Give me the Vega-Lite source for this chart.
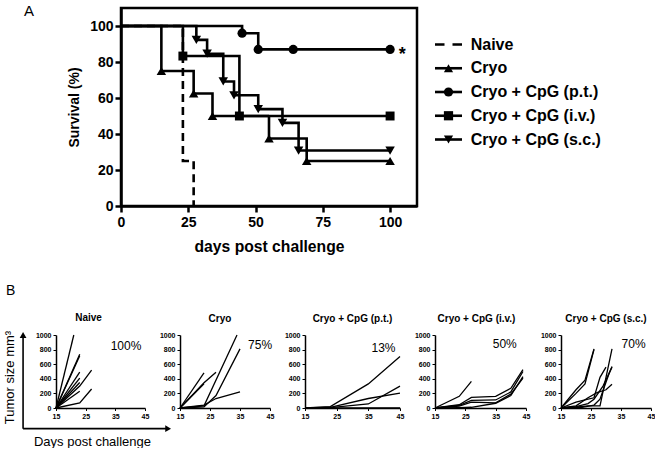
{
 "$schema": "https://vega.github.io/schema/vega-lite/v6.json",
 "background": "white",
 "padding": {"left": 2, "top": 2, "right": 0, "bottom": 0},
 "config": {
  "font": "Liberation Sans",
  "view": {"stroke": null},
  "axis": {"grid": false, "domainColor": "black", "tickColor": "black", "labelColor": "black", "titleColor": "black", "labelFlush": false, "labelOverlap": false},
  "title": {"color": "black"}
 },
 "spacing": 29,
 "datasets": {
  "survival": [
   {"group": "Naive", "day": 0, "survival": 100}, {"group": "Naive", "day": 23, "survival": 25}, {"group": "Naive", "day": 27, "survival": 0},
   {"group": "Cryo", "day": 0, "survival": 100}, {"group": "Cryo", "day": 15, "survival": 75}, {"group": "Cryo", "day": 27, "survival": 62.5}, {"group": "Cryo", "day": 34, "survival": 50}, {"group": "Cryo", "day": 55, "survival": 37.5}, {"group": "Cryo", "day": 69, "survival": 25}, {"group": "Cryo", "day": 100, "survival": 25},
   {"group": "Cryo + CpG (p.t.)", "day": 0, "survival": 100}, {"group": "Cryo + CpG (p.t.)", "day": 45, "survival": 96}, {"group": "Cryo + CpG (p.t.)", "day": 51, "survival": 87}, {"group": "Cryo + CpG (p.t.)", "day": 64, "survival": 87}, {"group": "Cryo + CpG (p.t.)", "day": 100, "survival": 87},
   {"group": "Cryo + CpG (i.v.)", "day": 0, "survival": 100}, {"group": "Cryo + CpG (i.v.)", "day": 23, "survival": 83.3}, {"group": "Cryo + CpG (i.v.)", "day": 44, "survival": 50}, {"group": "Cryo + CpG (i.v.)", "day": 100, "survival": 50},
   {"group": "Cryo + CpG (s.c.)", "day": 0, "survival": 100}, {"group": "Cryo + CpG (s.c.)", "day": 28, "survival": 92.3}, {"group": "Cryo + CpG (s.c.)", "day": 32, "survival": 84.6}, {"group": "Cryo + CpG (s.c.)", "day": 38, "survival": 69.2}, {"group": "Cryo + CpG (s.c.)", "day": 42, "survival": 61.5}, {"group": "Cryo + CpG (s.c.)", "day": 51, "survival": 53.8}, {"group": "Cryo + CpG (s.c.)", "day": 60, "survival": 46.2}, {"group": "Cryo + CpG (s.c.)", "day": 66, "survival": 30.8}, {"group": "Cryo + CpG (s.c.)", "day": 100, "survival": 30.8}
  ],
  "tumor": [
   {"g": "Naive", "m": 1, "day": 15, "size": 0}, {"g": "Naive", "m": 1, "day": 21, "size": 1000},
   {"g": "Naive", "m": 2, "day": 15, "size": 0}, {"g": "Naive", "m": 2, "day": 23, "size": 735},
   {"g": "Naive", "m": 3, "day": 15, "size": 0}, {"g": "Naive", "m": 3, "day": 23, "size": 715},
   {"g": "Naive", "m": 4, "day": 15, "size": 0}, {"g": "Naive", "m": 4, "day": 23, "size": 490},
   {"g": "Naive", "m": 5, "day": 15, "size": 0}, {"g": "Naive", "m": 5, "day": 23, "size": 410},
   {"g": "Naive", "m": 6, "day": 15, "size": 0}, {"g": "Naive", "m": 6, "day": 23, "size": 350},
   {"g": "Naive", "m": 7, "day": 15, "size": 0}, {"g": "Naive", "m": 7, "day": 23, "size": 300}, {"g": "Naive", "m": 7, "day": 27, "size": 520},
   {"g": "Naive", "m": 8, "day": 15, "size": 0}, {"g": "Naive", "m": 8, "day": 23, "size": 230},
   {"g": "Naive", "m": 9, "day": 15, "size": 0}, {"g": "Naive", "m": 9, "day": 23, "size": 70}, {"g": "Naive", "m": 9, "day": 27, "size": 260},
   {"g": "Cryo", "m": 1, "day": 15, "size": 0}, {"g": "Cryo", "m": 1, "day": 23, "size": 480},
   {"g": "Cryo", "m": 2, "day": 15, "size": 0}, {"g": "Cryo", "m": 2, "day": 23, "size": 330},
   {"g": "Cryo", "m": 3, "day": 15, "size": 0}, {"g": "Cryo", "m": 3, "day": 23, "size": 345}, {"g": "Cryo", "m": 3, "day": 27, "size": 490},
   {"g": "Cryo", "m": 4, "day": 15, "size": 0}, {"g": "Cryo", "m": 4, "day": 23, "size": 30}, {"g": "Cryo", "m": 4, "day": 34, "size": 1000},
   {"g": "Cryo", "m": 5, "day": 15, "size": 0}, {"g": "Cryo", "m": 5, "day": 23, "size": 15}, {"g": "Cryo", "m": 5, "day": 27, "size": 170}, {"g": "Cryo", "m": 5, "day": 35, "size": 810},
   {"g": "Cryo", "m": 6, "day": 15, "size": 0}, {"g": "Cryo", "m": 6, "day": 23, "size": 40}, {"g": "Cryo", "m": 6, "day": 27, "size": 130}, {"g": "Cryo", "m": 6, "day": 35, "size": 220},
   {"g": "pt", "m": 1, "day": 15, "size": 0}, {"g": "pt", "m": 1, "day": 23, "size": 20}, {"g": "pt", "m": 1, "day": 35, "size": 330}, {"g": "pt", "m": 1, "day": 45, "size": 705},
   {"g": "pt", "m": 2, "day": 15, "size": 0}, {"g": "pt", "m": 2, "day": 23, "size": 10}, {"g": "pt", "m": 2, "day": 35, "size": 130}, {"g": "pt", "m": 2, "day": 45, "size": 205},
   {"g": "pt", "m": 3, "day": 15, "size": 0}, {"g": "pt", "m": 3, "day": 23, "size": 5}, {"g": "pt", "m": 3, "day": 35, "size": 55}, {"g": "pt", "m": 3, "day": 45, "size": 300},
   {"g": "pt", "m": 4, "day": 15, "size": 0}, {"g": "pt", "m": 4, "day": 35, "size": 0}, {"g": "pt", "m": 4, "day": 45, "size": 0},
   {"g": "iv", "m": 1, "day": 15, "size": 0}, {"g": "iv", "m": 1, "day": 23, "size": 160}, {"g": "iv", "m": 1, "day": 27, "size": 365},
   {"g": "iv", "m": 2, "day": 15, "size": 0}, {"g": "iv", "m": 2, "day": 23, "size": 45}, {"g": "iv", "m": 2, "day": 27, "size": 145}, {"g": "iv", "m": 2, "day": 35, "size": 160}, {"g": "iv", "m": 2, "day": 40, "size": 270}, {"g": "iv", "m": 2, "day": 44, "size": 525},
   {"g": "iv", "m": 3, "day": 15, "size": 0}, {"g": "iv", "m": 3, "day": 23, "size": 35}, {"g": "iv", "m": 3, "day": 27, "size": 105}, {"g": "iv", "m": 3, "day": 35, "size": 110}, {"g": "iv", "m": 3, "day": 40, "size": 220}, {"g": "iv", "m": 3, "day": 44, "size": 500},
   {"g": "iv", "m": 4, "day": 15, "size": 0}, {"g": "iv", "m": 4, "day": 23, "size": 25}, {"g": "iv", "m": 4, "day": 27, "size": 80}, {"g": "iv", "m": 4, "day": 35, "size": 70}, {"g": "iv", "m": 4, "day": 40, "size": 190}, {"g": "iv", "m": 4, "day": 44, "size": 410},
   {"g": "iv", "m": 5, "day": 15, "size": 0}, {"g": "iv", "m": 5, "day": 23, "size": 5}, {"g": "iv", "m": 5, "day": 27, "size": 10}, {"g": "iv", "m": 5, "day": 35, "size": 65}, {"g": "iv", "m": 5, "day": 40, "size": 170}, {"g": "iv", "m": 5, "day": 44, "size": 430},
   {"g": "sc", "m": 1, "day": 15, "size": 0}, {"g": "sc", "m": 1, "day": 20, "size": 250}, {"g": "sc", "m": 1, "day": 23, "size": 380}, {"g": "sc", "m": 1, "day": 26, "size": 810},
   {"g": "sc", "m": 2, "day": 15, "size": 0}, {"g": "sc", "m": 2, "day": 20, "size": 200}, {"g": "sc", "m": 2, "day": 23, "size": 330}, {"g": "sc", "m": 2, "day": 26, "size": 800},
   {"g": "sc", "m": 3, "day": 15, "size": 0}, {"g": "sc", "m": 3, "day": 20, "size": 10}, {"g": "sc", "m": 3, "day": 24, "size": 30}, {"g": "sc", "m": 3, "day": 28, "size": 30}, {"g": "sc", "m": 3, "day": 32, "size": 810},
   {"g": "sc", "m": 4, "day": 15, "size": 0}, {"g": "sc", "m": 4, "day": 20, "size": 80}, {"g": "sc", "m": 4, "day": 23, "size": 110}, {"g": "sc", "m": 4, "day": 26, "size": 140}, {"g": "sc", "m": 4, "day": 28, "size": 420}, {"g": "sc", "m": 4, "day": 30, "size": 560},
   {"g": "sc", "m": 5, "day": 15, "size": 0}, {"g": "sc", "m": 5, "day": 20, "size": 30}, {"g": "sc", "m": 5, "day": 24, "size": 140}, {"g": "sc", "m": 5, "day": 27, "size": 210}, {"g": "sc", "m": 5, "day": 30, "size": 250}, {"g": "sc", "m": 5, "day": 32, "size": 325},
   {"g": "sc", "m": 6, "day": 15, "size": 0}, {"g": "sc", "m": 6, "day": 20, "size": 20}, {"g": "sc", "m": 6, "day": 24, "size": 60}, {"g": "sc", "m": 6, "day": 26, "size": 120}, {"g": "sc", "m": 6, "day": 29, "size": 300}, {"g": "sc", "m": 6, "day": 32, "size": 560},
   {"g": "sc", "m": 7, "day": 15, "size": 0}, {"g": "sc", "m": 7, "day": 22, "size": 10}, {"g": "sc", "m": 7, "day": 26, "size": 40}, {"g": "sc", "m": 7, "day": 28, "size": 120}, {"g": "sc", "m": 7, "day": 31, "size": 470}, {"g": "sc", "m": 7, "day": 32, "size": 570}
  ]
 },
 "vconcat": [
  {
   "spacing": 18,
   "bounds": "flush",
   "hconcat": [
    {"width": 47, "height": 198, "data": {"values": []}, "mark": "point"},
    {
     "width": 296, "height": 198,
     "view": {"stroke": "black", "strokeWidth": 2.5},
     "layer": [
      {
       "data": {"name": "survival"},
       "mark": {"type": "line", "interpolate": "step-after", "strokeWidth": 2.6, "color": "black"},
       "encoding": {
        "x": {"field": "day", "type": "quantitative", "scale": {"domain": [0, 110], "nice": false, "zero": false},
              "axis": {"values": [0, 25, 50, 75, 100], "title": "days post challenge", "titleFontSize": 15.7, "titleFontWeight": "bold", "titlePadding": 10, "labelFontSize": 14, "labelFontWeight": "bold", "labelPadding": 3, "tickSize": 6, "tickWidth": 2.5, "domainWidth": 2.5}},
        "y": {"field": "survival", "type": "quantitative", "scale": {"domain": [0, 110], "nice": false},
              "axis": {"values": [0, 20, 40, 60, 80, 100], "title": "Survival  (%)", "titleFontSize": 14, "titleFontWeight": "bold", "titlePadding": 8, "labelFontSize": 14, "labelFontWeight": "bold", "labelPadding": 2, "tickSize": 6, "tickWidth": 2.5, "domainWidth": 2.5}},
        "strokeDash": {"field": "group", "type": "nominal", "scale": {"domain": ["Naive", "Cryo", "Cryo + CpG (p.t.)", "Cryo + CpG (i.v.)", "Cryo + CpG (s.c.)"], "range": [[8, 5], [1, 0], [1, 0], [1, 0], [1, 0]]}, "legend": null}
       }
      },
      {
       "data": {"name": "survival"},
       "transform": [{"filter": "datum.day > 0 && datum.group == 'Cryo'"}],
       "mark": {"type": "point", "filled": true, "size": 90, "color": "black", "opacity": 1, "shape": "triangle-up"},
       "encoding": {
        "x": {"field": "day", "type": "quantitative", "scale": {"domain": [0, 110], "nice": false, "zero": false}, "axis": null},
        "y": {"field": "survival", "type": "quantitative", "scale": {"domain": [0, 110], "nice": false}, "axis": null}
       }
      },
      {
       "data": {"name": "survival"},
       "transform": [{"filter": "datum.day > 0 && datum.group == 'Cryo + CpG (p.t.)'"}],
       "mark": {"type": "point", "filled": true, "size": 85, "color": "black", "opacity": 1, "shape": "circle"},
       "encoding": {
        "x": {"field": "day", "type": "quantitative", "scale": {"domain": [0, 110], "nice": false, "zero": false}, "axis": null},
        "y": {"field": "survival", "type": "quantitative", "scale": {"domain": [0, 110], "nice": false}, "axis": null}
       }
      },
      {
       "data": {"name": "survival"},
       "transform": [{"filter": "datum.day > 0 && datum.group == 'Cryo + CpG (i.v.)'"}],
       "mark": {"type": "point", "filled": true, "size": 80, "color": "black", "opacity": 1, "shape": "square"},
       "encoding": {
        "x": {"field": "day", "type": "quantitative", "scale": {"domain": [0, 110], "nice": false, "zero": false}, "axis": null},
        "y": {"field": "survival", "type": "quantitative", "scale": {"domain": [0, 110], "nice": false}, "axis": null}
       }
      },
      {
       "data": {"name": "survival"},
       "transform": [{"filter": "datum.day > 0 && datum.group == 'Cryo + CpG (s.c.)'"}],
       "mark": {"type": "point", "filled": true, "size": 90, "color": "black", "opacity": 1, "shape": "triangle-down"},
       "encoding": {
        "x": {"field": "day", "type": "quantitative", "scale": {"domain": [0, 110], "nice": false, "zero": false}, "axis": null},
        "y": {"field": "survival", "type": "quantitative", "scale": {"domain": [0, 110], "nice": false}, "axis": null}
       }
      },
      {
       "data": {"values": [{}]},
       "mark": {"type": "text", "text": "*", "fontSize": 18, "fontWeight": "bold", "align": "center", "baseline": "middle"},
       "encoding": {
        "x": {"datum": 104.5, "type": "quantitative", "scale": {"domain": [0, 110], "nice": false, "zero": false}, "axis": null},
        "y": {"datum": 84, "type": "quantitative", "scale": {"domain": [0, 110], "nice": false}, "axis": null}
       }
      },
      {
       "data": {"values": [{}]},
       "mark": {"type": "text", "text": "A", "fontSize": 15, "align": "center", "baseline": "middle"},
       "encoding": {
        "x": {"datum": -34.2, "type": "quantitative", "scale": {"domain": [0, 110], "nice": false, "zero": false}, "axis": null},
        "y": {"datum": 108.3, "type": "quantitative", "scale": {"domain": [0, 110], "nice": false}, "axis": null}
       }
      }
     ],
     "resolve": {"axis": {"x": "independent", "y": "independent"}}
    },
    {
     "width": 30, "height": 198,
     "data": {"name": "survival"},
     "transform": [{"filter": "datum.day == 0"}],
     "layer": [
      {
       "transform": [{"filter": "datum.group != 'Naive'"}],
       "mark": {"type": "rule", "strokeWidth": 2.6, "color": "black"},
       "encoding": {
        "x": {"datum": 0, "type": "quantitative", "scale": {"domain": [0, 30], "nice": false, "zero": false}, "axis": null},
        "x2": {"datum": 27},
        "y": {"field": "group", "type": "nominal", "scale": {"type": "point", "padding": 0, "domain": ["Naive", "Cryo", "Cryo + CpG (p.t.)", "Cryo + CpG (i.v.)", "Cryo + CpG (s.c.)"], "range": [36.5, 131.5]}, "axis": null}
       }
      },
      {
       "transform": [{"filter": "datum.group == 'Naive'"}],
       "mark": {"type": "rule", "strokeWidth": 2.6, "color": "black", "strokeDash": [9.5, 8]},
       "encoding": {
        "x": {"datum": 0, "type": "quantitative", "scale": {"domain": [0, 30], "nice": false, "zero": false}, "axis": null},
        "x2": {"datum": 27},
        "y": {"field": "group", "type": "nominal", "scale": {"type": "point", "padding": 0, "domain": ["Naive", "Cryo", "Cryo + CpG (p.t.)", "Cryo + CpG (i.v.)", "Cryo + CpG (s.c.)"], "range": [36.5, 131.5]}, "axis": null}
       }
      },
      {
       "transform": [{"filter": "datum.group != 'Naive'"}],
       "mark": {"type": "point", "filled": true, "size": 85, "color": "black", "opacity": 1},
       "encoding": {
        "x": {"datum": 13.5, "type": "quantitative", "scale": {"domain": [0, 30], "nice": false, "zero": false}, "axis": null},
        "y": {"field": "group", "type": "nominal", "scale": {"type": "point", "padding": 0, "domain": ["Naive", "Cryo", "Cryo + CpG (p.t.)", "Cryo + CpG (i.v.)", "Cryo + CpG (s.c.)"], "range": [36.5, 131.5]}, "axis": null},
        "shape": {"field": "group", "type": "nominal", "scale": {"domain": ["Cryo", "Cryo + CpG (p.t.)", "Cryo + CpG (i.v.)", "Cryo + CpG (s.c.)"], "range": ["triangle-up", "circle", "square", "triangle-down"]}, "legend": null}
       }
      },
      {
       "mark": {"type": "text", "fontSize": 16, "fontWeight": "bold", "align": "left", "baseline": "middle", "color": "black"},
       "encoding": {
        "x": {"datum": 35.7, "type": "quantitative", "scale": {"domain": [0, 30], "nice": false, "zero": false}, "axis": null},
        "y": {"field": "group", "type": "nominal", "scale": {"type": "point", "padding": 0, "domain": ["Naive", "Cryo", "Cryo + CpG (p.t.)", "Cryo + CpG (i.v.)", "Cryo + CpG (s.c.)"], "range": [36.5, 131.5]}, "axis": null},
        "text": {"field": "group", "type": "nominal"}
       }
      }
     ]
    }
   ]
  },
  {
   "title": {"text": "B", "anchor": "start", "frame": "bounds", "fontSize": 14, "fontWeight": "normal", "dx": 3, "offset": 15},
   "spacing": 35,
   "bounds": "flush",
   "hconcat": [
    {
     "width": 89, "height": 73,
     "title": {"text": "Naive", "fontSize": 10, "fontWeight": "bold", "frame": "group", "anchor": "middle", "offset": 7, "dx": -12},
     "layer": [
      {
       "data": {"name": "tumor"},
       "transform": [{"filter": "datum.g == 'Naive'"}],
       "mark": {"type": "line", "color": "black", "strokeWidth": 1.3},
       "encoding": {
        "x": {"field": "day", "type": "quantitative", "scale": {"domain": [15, 45], "nice": false, "zero": false},
              "axis": {"values": [15, 25, 35, 45], "format": "d", "title": "Days post challenge", "titleFontSize": 13, "titleFontWeight": "normal", "titleX": 36, "titleY": 33, "titleBaseline": "middle", "labelFontSize": 7, "labelFontWeight": "bold", "tickSize": 2.5, "labelPadding": 2, "domainWidth": 1.5, "tickWidth": 1}},
        "y": {"field": "size", "type": "quantitative", "scale": {"domain": [0, 1000], "nice": false},
              "axis": {"values": [0, 200, 400, 600, 800, 1000], "format": "d", "title": "Tumor size mm³", "titleFontSize": 13, "titleFontWeight": "normal", "titleX": -47, "titleY": 42, "titleBaseline": "middle", "labelFontSize": 7, "labelFontWeight": "bold", "tickSize": 3, "labelPadding": 2, "domainWidth": 1.5, "tickWidth": 1}},
        "detail": {"field": "m", "type": "nominal"}
       }
      },
      {
       "data": {"values": [{}]},
       "mark": {"type": "text", "text": "100%", "fontSize": 12, "align": "center", "baseline": "middle"},
       "encoding": {
        "x": {"datum": 38.6, "type": "quantitative", "scale": {"domain": [15, 45], "nice": false, "zero": false}, "axis": null},
        "y": {"datum": 845, "type": "quantitative", "scale": {"domain": [0, 1000], "nice": false}, "axis": null}
       }
      },
      {
       "data": {"values": [{"ax": 3.9, "ay": -283, "ax2": 3.9, "ay2": 990}, {"ax": 3.9, "ay": -283, "ax2": 52.3, "ay2": -283}]},
       "mark": {"type": "rule", "color": "black", "strokeWidth": 1.6},
       "encoding": {
        "x": {"field": "ax", "type": "quantitative", "scale": {"domain": [15, 45], "nice": false, "zero": false}, "axis": null},
        "y": {"field": "ay", "type": "quantitative", "scale": {"domain": [0, 1000], "nice": false}, "axis": null},
        "x2": {"field": "ax2"},
        "y2": {"field": "ay2"}
       }
      },
      {
       "data": {"values": [{"hx": 3.9, "hy": 1000}]},
       "mark": {"type": "point", "filled": true, "size": 45, "color": "black", "opacity": 1, "shape": "triangle-up"},
       "encoding": {
        "x": {"field": "hx", "type": "quantitative", "scale": {"domain": [15, 45], "nice": false, "zero": false}, "axis": null},
        "y": {"field": "hy", "type": "quantitative", "scale": {"domain": [0, 1000], "nice": false}, "axis": null}
       }
      },
      {
       "data": {"values": [{"hx": 52.8, "hy": -283}]},
       "mark": {"type": "point", "filled": true, "size": 45, "color": "black", "opacity": 1, "shape": "triangle-right"},
       "encoding": {
        "x": {"field": "hx", "type": "quantitative", "scale": {"domain": [15, 45], "nice": false, "zero": false}, "axis": null},
        "y": {"field": "hy", "type": "quantitative", "scale": {"domain": [0, 1000], "nice": false}, "axis": null}
       }
      }
     ],
     "resolve": {"axis": {"x": "independent", "y": "independent"}}
    },
    {
     "width": 90, "height": 73,
     "title": {"text": "Cryo", "fontSize": 10, "fontWeight": "bold", "frame": "group", "anchor": "middle", "offset": 7, "dx": -5},
     "layer": [
      {
       "data": {"name": "tumor"},
       "transform": [{"filter": "datum.g == 'Cryo'"}],
       "mark": {"type": "line", "color": "black", "strokeWidth": 1.3},
       "encoding": {
        "x": {"field": "day", "type": "quantitative", "scale": {"domain": [15, 45], "nice": false, "zero": false},
              "axis": {"values": [15, 25, 35, 45], "format": "d", "title": null, "labelFontSize": 7, "labelFontWeight": "bold", "tickSize": 2.5, "labelPadding": 2, "domainWidth": 1.5, "tickWidth": 1}},
        "y": {"field": "size", "type": "quantitative", "scale": {"domain": [0, 1000], "nice": false},
              "axis": {"values": [0, 200, 400, 600, 800, 1000], "format": "d", "title": null, "labelFontSize": 7, "labelFontWeight": "bold", "tickSize": 3, "labelPadding": 2, "domainWidth": 1.5, "tickWidth": 1}},
        "detail": {"field": "m", "type": "nominal"}
       }
      },
      {
       "data": {"values": [{}]},
       "mark": {"type": "text", "text": "75%", "fontSize": 12, "align": "center", "baseline": "middle"},
       "encoding": {
        "x": {"datum": 41.7, "type": "quantitative", "scale": {"domain": [15, 45], "nice": false, "zero": false}, "axis": null},
        "y": {"datum": 858, "type": "quantitative", "scale": {"domain": [0, 1000], "nice": false}, "axis": null}
       }
      }
     ],
     "resolve": {"axis": {"x": "independent", "y": "independent"}}
    },
    {
     "width": 95, "height": 73,
     "title": {"text": "Cryo + CpG (p.t.)", "fontSize": 10, "fontWeight": "bold", "frame": "group", "anchor": "middle", "offset": 7},
     "layer": [
      {
       "data": {"name": "tumor"},
       "transform": [{"filter": "datum.g == 'pt'"}],
       "mark": {"type": "line", "color": "black", "strokeWidth": 1.3},
       "encoding": {
        "x": {"field": "day", "type": "quantitative", "scale": {"domain": [15, 45], "nice": false, "zero": false},
              "axis": {"values": [15, 25, 35, 45], "format": "d", "title": null, "labelFontSize": 7, "labelFontWeight": "bold", "tickSize": 2.5, "labelPadding": 2, "domainWidth": 1.5, "tickWidth": 1}},
        "y": {"field": "size", "type": "quantitative", "scale": {"domain": [0, 1000], "nice": false},
              "axis": {"values": [0, 200, 400, 600, 800, 1000], "format": "d", "title": null, "labelFontSize": 7, "labelFontWeight": "bold", "tickSize": 3, "labelPadding": 2, "domainWidth": 1.5, "tickWidth": 1}},
        "detail": {"field": "m", "type": "nominal"}
       }
      },
      {
       "data": {"values": [{}]},
       "mark": {"type": "text", "text": "13%", "fontSize": 12, "align": "center", "baseline": "middle"},
       "encoding": {
        "x": {"datum": 39.8, "type": "quantitative", "scale": {"domain": [15, 45], "nice": false, "zero": false}, "axis": null},
        "y": {"datum": 822, "type": "quantitative", "scale": {"domain": [0, 1000], "nice": false}, "axis": null}
       }
      }
     ],
     "resolve": {"axis": {"x": "independent", "y": "independent"}}
    },
    {
     "width": 91, "height": 73,
     "title": {"text": "Cryo + CpG (i.v.)", "fontSize": 10, "fontWeight": "bold", "frame": "group", "anchor": "middle", "offset": 7, "dx": -4},
     "layer": [
      {
       "data": {"name": "tumor"},
       "transform": [{"filter": "datum.g == 'iv'"}],
       "mark": {"type": "line", "color": "black", "strokeWidth": 1.3},
       "encoding": {
        "x": {"field": "day", "type": "quantitative", "scale": {"domain": [15, 45], "nice": false, "zero": false},
              "axis": {"values": [15, 25, 35, 45], "format": "d", "title": null, "labelFontSize": 7, "labelFontWeight": "bold", "tickSize": 2.5, "labelPadding": 2, "domainWidth": 1.5, "tickWidth": 1}},
        "y": {"field": "size", "type": "quantitative", "scale": {"domain": [0, 1000], "nice": false},
              "axis": {"values": [0, 200, 400, 600, 800, 1000], "format": "d", "title": null, "labelFontSize": 7, "labelFontWeight": "bold", "tickSize": 3, "labelPadding": 2, "domainWidth": 1.5, "tickWidth": 1}},
        "detail": {"field": "m", "type": "nominal"}
       }
      },
      {
       "data": {"values": [{}]},
       "mark": {"type": "text", "text": "50%", "fontSize": 12, "align": "center", "baseline": "middle"},
       "encoding": {
        "x": {"datum": 38, "type": "quantitative", "scale": {"domain": [15, 45], "nice": false, "zero": false}, "axis": null},
        "y": {"datum": 872, "type": "quantitative", "scale": {"domain": [0, 1000], "nice": false}, "axis": null}
       }
      }
     ],
     "resolve": {"axis": {"x": "independent", "y": "independent"}}
    },
    {
     "width": 90, "height": 73,
     "title": {"text": "Cryo + CpG (s.c.)", "fontSize": 10, "fontWeight": "bold", "frame": "group", "anchor": "middle", "offset": 7},
     "layer": [
      {
       "data": {"name": "tumor"},
       "transform": [{"filter": "datum.g == 'sc'"}],
       "mark": {"type": "line", "color": "black", "strokeWidth": 1.3},
       "encoding": {
        "x": {"field": "day", "type": "quantitative", "scale": {"domain": [15, 45], "nice": false, "zero": false},
              "axis": {"values": [15, 25, 35, 45], "format": "d", "title": null, "labelFontSize": 7, "labelFontWeight": "bold", "tickSize": 2.5, "labelPadding": 2, "domainWidth": 1.5, "tickWidth": 1}},
        "y": {"field": "size", "type": "quantitative", "scale": {"domain": [0, 1000], "nice": false},
              "axis": {"values": [0, 200, 400, 600, 800, 1000], "format": "d", "title": null, "labelFontSize": 7, "labelFontWeight": "bold", "tickSize": 3, "labelPadding": 2, "domainWidth": 1.5, "tickWidth": 1}},
        "detail": {"field": "m", "type": "nominal"}
       }
      },
      {
       "data": {"values": [{}]},
       "mark": {"type": "text", "text": "70%", "fontSize": 12, "align": "center", "baseline": "middle"},
       "encoding": {
        "x": {"datum": 39.2, "type": "quantitative", "scale": {"domain": [15, 45], "nice": false, "zero": false}, "axis": null},
        "y": {"datum": 872, "type": "quantitative", "scale": {"domain": [0, 1000], "nice": false}, "axis": null}
       }
      }
     ],
     "resolve": {"axis": {"x": "independent", "y": "independent"}}
    }
   ]
  }
 ]
}
